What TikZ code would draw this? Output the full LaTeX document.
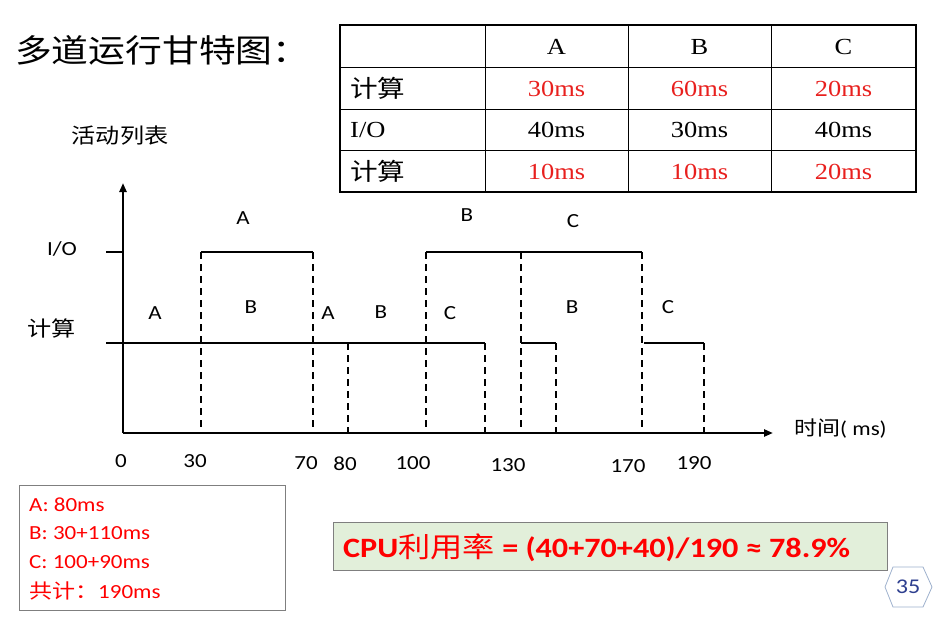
\documentclass[tikz,border=0pt]{standalone}
\usepackage{fontspec}
\setmainfont{Carlito}[FakeStretch=1.15]
\newfontfamily\cjk{Noto Sans CJK SC}[FakeStretch=1.15]
\newfontfamily\tms{Liberation Serif}[FakeStretch=1.15]
\usetikzlibrary{arrows.meta}
\definecolor{tred}{HTML}{E8201E}
\definecolor{bred}{HTML}{FF0000}
\definecolor{gfill}{HTML}{E2EFDA}
\definecolor{gbord}{HTML}{7F7F7F}
\definecolor{hexb}{HTML}{9DB0CC}
\definecolor{hext}{HTML}{2E3F8F}
\newcommand{\myfs}[1]{\fontsize{#1}{#1}\selectfont}
\begin{document}
\begin{tikzpicture}[x=1pt,y=-1pt,
  axisline/.style={line width=2.6pt},
  seg/.style={line width=2.6pt},
  dsh/.style={line width=2.2pt, dash pattern=on 7pt off 5pt},
  lbl/.style={font=\myfs{20}, inner sep=0pt},
  tick/.style={font=\myfs{20}, inner sep=0pt},
  cell/.style={font=\tms\myfs{23}, inner sep=0pt},
  rcell/.style={cell, text=tred},
  hcell/.style={font=\cjk\myfs{24}, inner sep=0pt, anchor=west},
  sumtxt/.style={font=\myfs{20}, text=bred, inner sep=0pt, anchor=base west}
]
\useasboundingbox (0,0) rectangle (940,621);

% title
\node[font=\cjk\myfs{32}, anchor=west, inner sep=0pt] (title) at (15,50) {多道运行甘特图：};
\node[font=\cjk\myfs{21}, inner sep=0pt] (act) at (120,136) {活动列表};

% table
\draw[line width=1pt] (485,25) -- (485,192) (628,25) -- (628,192) (771,25) -- (771,192)
  (340,67) -- (916,67) (340,109) -- (916,109) (340,150) -- (916,150);
\draw[line width=2.5pt] (340,25) rectangle (916,192);
\node[cell] (hA) at (556.5,47) {A};
\node[cell] (hB) at (699.5,47) {B};
\node[cell] (hC) at (843.5,47) {C};
\node[hcell] (r1) at (350,88) {计算};
\node[hcell, font=\tms\myfs{23}] (r2) at (350,129.5) {I/O};
\node[hcell] (r3) at (350,171) {计算};
\node[rcell] (c11) at (556.5,88.5) {30ms};
\node[rcell] (c12) at (699.5,88.5) {60ms};
\node[rcell] (c13) at (843.5,88.5) {20ms};
\node[cell] (c21) at (556.5,130) {40ms};
\node[cell] (c22) at (699.5,130) {30ms};
\node[cell] (c23) at (843.5,130) {40ms};
\node[rcell] (c31) at (556.5,171.5) {10ms};
\node[rcell] (c32) at (699.5,171.5) {10ms};
\node[rcell] (c33) at (843.5,171.5) {20ms};

% axes
\coordinate (O) at (123,433);
\coordinate (ytop) at (123,183);
\coordinate (xend) at (773,433);
\draw[axisline,-{Triangle[length=9pt,width=7pt]}] (O) -- (ytop);
\draw[axisline,-{Triangle[length=9pt,width=7pt]}] (O) -- (xend);
\node[font=\cjk\myfs{20}, anchor=west, inner sep=0pt] (tlab) at (794,429) {时间\rmfamily( ms)};
\node[lbl] (iol) at (62,249) {I/O};
\node[font=\cjk\myfs{21}, inner sep=0pt] (cpl) at (52,328) {计算};

% levels
\coordinate (io0) at (106,252);
\coordinate (io1) at (123,252);
\coordinate (cp0) at (106,343);
\coordinate (cp1) at (485,343);
\draw[seg] (io0) -- (io1);
\draw[seg] (cp0) -- (cp1);
\draw[seg] (201,252) coordinate (a1) -- (313,252) coordinate (a2);
\draw[seg] (426,252) coordinate (b1) -- (642,252) coordinate (b2);
\draw[seg] (521,343) coordinate (d1) -- (556,343) coordinate (d2);
\draw[seg] (644,343) coordinate (e1) -- (704,343) coordinate (e2);

% dashed lines
\foreach \x/\y in {201/252, 313/252, 348/343, 426/252, 485/343, 521/252, 556/343, 642/252, 704/343}{
  \draw[dsh] (\x,\y) -- (\x,433);
}

% segment labels
\node[lbl] (la1) at (243,218) {A};
\node[lbl] (lb1) at (467,215) {B};
\node[lbl] (lc1) at (573,221) {C};
\node[lbl] (ca1) at (155,313) {A};
\node[lbl] (cb1) at (251,307) {B};
\node[lbl] (ca2) at (328,313) {A};
\node[lbl] (cb2) at (381,312) {B};
\node[lbl] (cc1) at (450,313) {C};
\node[lbl] (cb3) at (572,307) {B};
\node[lbl] (cc2) at (668,307) {C};

% ticks
\node[tick] (t0) at (121,461) {0};
\node[tick] (t30) at (195,461) {30};
\node[tick] (t70) at (306,463) {70};
\node[tick] (t80) at (345,464) {80};
\node[tick] (t100) at (413,463) {100};
\node[tick] (t130) at (508,465) {130};
\node[tick] (t170) at (628,466) {170};
\node[tick] (t190) at (694,463) {190};

% summary box
\draw[gbord, line width=0.8pt] (19,485) rectangle (285,610);
\node[sumtxt] (s1) at (29,511) {A: 80ms};
\node[sumtxt] (s2) at (29,539) {B: 30+110ms};
\node[sumtxt] (s3) at (29,568) {C: 100+90ms};
\node[sumtxt] (s4) at (29,598) {{\cjk 共计：}190ms};

% CPU box
\draw[gbord, fill=gfill, line width=1pt] (333,522) rectangle (887,570);
\node[font=\bfseries\myfs{28}, text=bred, anchor=base west, inner sep=0pt] (cpu) at (343,557)
  {CPU{\cjk\mdseries 利用率} = (40+70+40)/190 ≈ 78.9\%};

% page number
\draw[hexb, line width=0.8pt] (885,587) -- (893,567) -- (923,567) -- (932,587) -- (923,607) -- (893,607) -- cycle;
\node[font=\myfs{21}, text=hext, inner sep=0pt] (pg) at (908,587) {35};
\end{tikzpicture}
\end{document}
